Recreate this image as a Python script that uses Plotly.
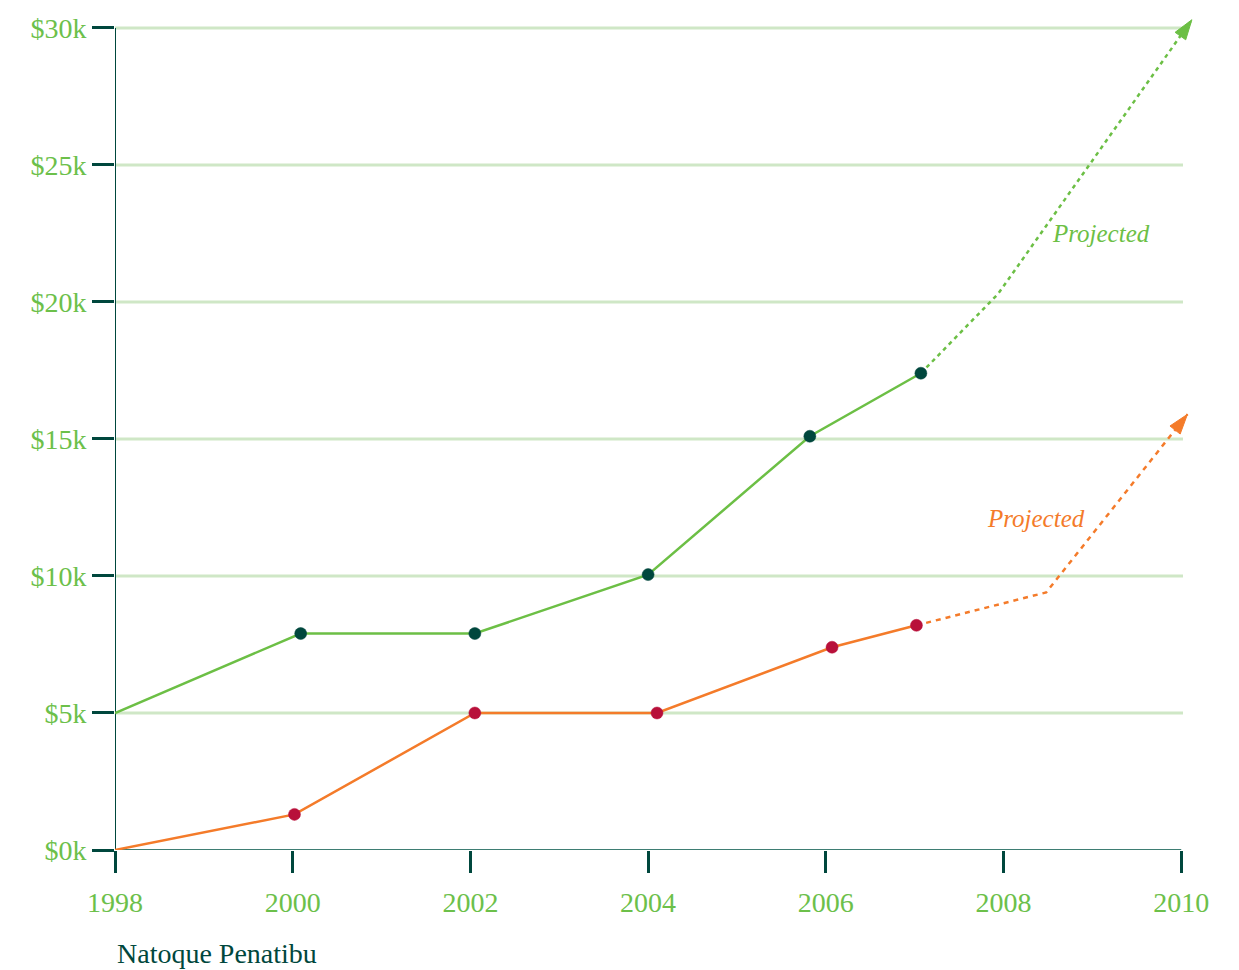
import plotly.graph_objects as go

# ---- data (values in $k) ----
green_years = [1998, 2000.09, 2002.05, 2004.0, 2005.82, 2007.07]
green_vals = [5.0, 7.9, 7.9, 10.05, 15.1, 17.4]
green_proj_years = [2007.07, 2007.94, 2010.12]
green_proj_vals = [17.4, 20.3, 30.3]

orange_years = [1998, 2000.02, 2002.05, 2004.1, 2006.07, 2007.02]
orange_vals = [0.0, 1.3, 5.0, 5.0, 7.4, 8.2]
orange_proj_years = [2007.02, 2008.48, 2010.07]
orange_proj_vals = [8.2, 9.4, 15.9]

x_ticks = [1998, 2000, 2002, 2004, 2006, 2008, 2010]
x_ticklabels = ["1998", "2000", "2002", "2004", "2006", "2008", "2010"]
y_ticks = [0, 5, 10, 15, 20, 25, 30]
y_ticklabels = ["$0k", "$5k", "$10k", "$15k", "$20k", "$25k", "$30k"]

x_title = "Natoque Penatibu"
proj_label = "Projected"
green_label_pos = (2009.1, 22.5)
orange_label_pos = (2008.36, 12.1)

# ---- styles ----
GREEN = "#6cbf45"
ORANGE = "#f47b2a"
DARK = "#00473d"
RED = "#b8103a"
GRID = "#cfe7c6"
TICKTXT = "#6cc04a"
FONT = "Liberation Serif"
GRID_END = 2010.02

fig = go.Figure()

def marker_sizes(n, size=12):
    return [0 if i == 0 else size for i in range(n)]

# gridlines (drawn under everything)
for v in y_ticks[1:]:
    fig.add_shape(type="line", xref="x", yref="y", x0=x_ticks[0], x1=GRID_END,
                  y0=v, y1=v, line=dict(color=GRID, width=3), layer="below")

fig.add_trace(go.Scatter(
    x=green_proj_years, y=green_proj_vals, mode="lines+markers",
    line=dict(color=GREEN, width=2.5, dash="4px,4px"),
    marker=dict(symbol=["circle", "circle", "arrow"], size=[0, 0, 21],
                color=GREEN, opacity=1, angleref="previous",
                line=dict(color=GREEN, width=1)),
    cliponaxis=False, hoverinfo="skip", showlegend=False))
fig.add_trace(go.Scatter(
    x=orange_proj_years, y=orange_proj_vals, mode="lines+markers",
    line=dict(color=ORANGE, width=2.5, dash="5px,5px"),
    marker=dict(symbol=["circle", "circle", "arrow"], size=[0, 0, 21],
                color=ORANGE, opacity=1, angleref="previous",
                line=dict(color=ORANGE, width=1)),
    cliponaxis=False, hoverinfo="skip", showlegend=False))

fig.add_trace(go.Scatter(
    x=green_years, y=green_vals, mode="lines+markers",
    line=dict(color=GREEN, width=2.5),
    marker=dict(size=marker_sizes(len(green_years)), color=DARK, opacity=1,
                line=dict(color=DARK, width=0.5)),
    cliponaxis=False, showlegend=False))
fig.add_trace(go.Scatter(
    x=orange_years, y=orange_vals, mode="lines+markers",
    line=dict(color=ORANGE, width=2.5),
    marker=dict(size=marker_sizes(len(orange_years)), color=RED, opacity=1,
                line=dict(color=RED, width=0.5)),
    cliponaxis=False, showlegend=False))

# axis lines
fig.add_shape(type="line", xref="x", yref="y", x0=x_ticks[0], x1=x_ticks[0],
              y0=y_ticks[0], y1=y_ticks[-1], line=dict(color=DARK, width=2), layer="between")
fig.add_shape(type="line", xref="x", yref="y", x0=x_ticks[0], x1=x_ticks[-1],
              y0=y_ticks[0], y1=y_ticks[0], line=dict(color="#3e7d73", width=2), layer="between")

fig.add_annotation(x=green_label_pos[0], y=green_label_pos[1], text="<i>%s</i>" % proj_label,
                   showarrow=False, font=dict(family=FONT, size=25, color=GREEN))
fig.add_annotation(x=orange_label_pos[0], y=orange_label_pos[1], text="<i>%s</i>" % proj_label,
                   showarrow=False, font=dict(family=FONT, size=25, color=ORANGE))
fig.add_annotation(xref="paper", yref="paper", x=0, y=0, xanchor="left", yanchor="middle",
                   yshift=-103, text=x_title, showarrow=False,
                   font=dict(family=FONT, size=28, color=DARK))

fig.update_xaxes(range=[1998, 2010.2], tickvals=x_ticks, ticktext=x_ticklabels,
                 showgrid=False, zeroline=False, showline=False,
                 ticks="outside", ticklen=22, tickwidth=2.5, tickcolor=DARK,
                 tickfont=dict(family=FONT, size=28, color=TICKTXT),
                 ticklabelstandoff=5, ticklabeloverflow="allow")
fig.update_yaxes(range=[0, 30.4], tickvals=y_ticks, ticktext=y_ticklabels,
                 showgrid=False, zeroline=False, showline=False,
                 ticks="outside", ticklen=22, tickwidth=2.5, tickcolor=DARK,
                 tickfont=dict(family=FONT, size=28, color=TICKTXT),
                 ticklabelstandoff=0, ticklabeloverflow="allow")

fig.update_layout(width=1231, height=962, plot_bgcolor="white", paper_bgcolor="white",
                  margin=dict(l=107, r=40, t=5, b=120))

fig.write_html("out.html")
